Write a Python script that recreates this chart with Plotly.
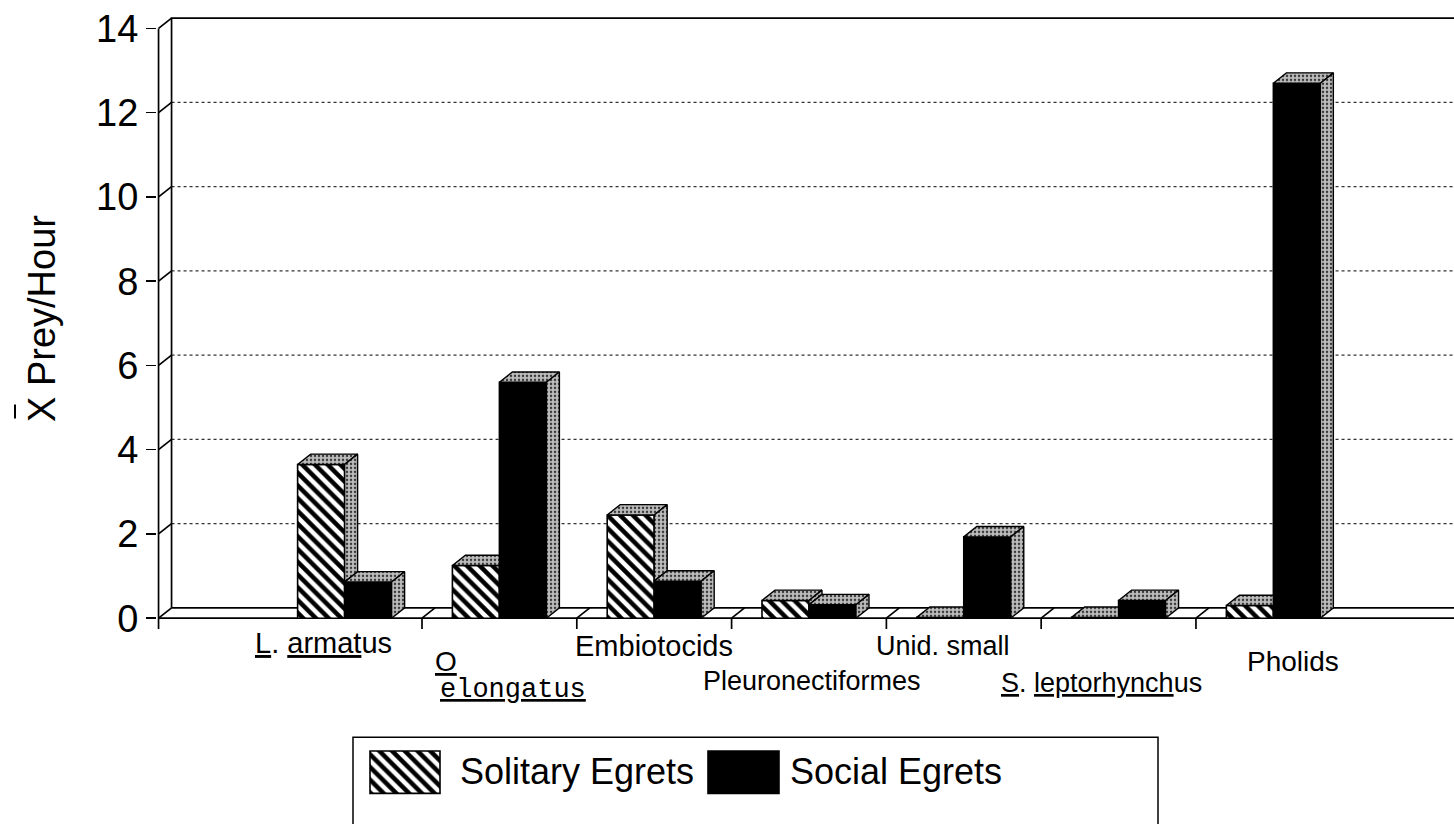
import plotly.graph_objects as go

# ---------------- data ----------------
categories = ["L. armatus", "O. elongatus", "Embiotocids", "Pleuronectiformes",
              "Unid. small", "S. leptorhynchus", "Pholids"]
solitary = [3.65, 1.25, 2.45, 0.42, 0.02, 0.02, 0.30]
social = [0.86, 5.60, 0.88, 0.32, 1.93, 0.42, 12.70]
series_names = ["Solitary Egrets", "Social Egrets"]
y_ticks = [0, 2, 4, 6, 8, 10, 12, 14]
y_title = "X Prey/Hour"

# label markup (underlines as in the original)
label_html = ["<u>L</u>. <u>armat</u>us", "<u>O</u>", "Embiotocids", "Pleuronectiformes",
              "Unid. small", "<u>S</u>. <u>leptorhynch</u>us", "Pholids"]
label_line2 = {1: "<u>elongatus</u>"}

# ---------------- geometry / style ----------------
W, H = 1454, 824
PXX, PXY = 154.8, 42.8          # px per data unit
X_RANGE = [-1.212, 7.167]
Y_RANGE = [-0.327, 14.346]
XL = -1.202                      # front left axis position
DX, DY = 13 / PXX, 10.5 / PXY    # 3-D depth offset
BAR_W = 47 / PXX
TICK = 11 / PXY
FONT = "Liberation Sans, Arial, Helvetica, sans-serif"
MONO = "Liberation Mono, Courier New, monospace"
HATCH = dict(shape="\\", fgcolor="black", bgcolor="white", fgopacity=1, fillmode="replace",
             size=9, solidity=0.5)
STIPPLE = dict(shape=".", fgcolor="#3a3a3a", bgcolor="#bdbdbd", fgopacity=1, size=4, solidity=0.3)

fig = go.Figure()

# ---------- background (walls, floor, grid) on main axes ----------
gx, gy = [], []
for v in y_ticks[1:-1]:
    gx += [XL + DX, X_RANGE[1], None]
    gy += [v + DY, v + DY, None]
fig.add_trace(go.Scatter(x=gx, y=gy, mode="lines", hoverinfo="skip",
                         line=dict(color="#333333", width=1.2, dash="dot"), showlegend=False))

lx, ly = [], []
top = y_ticks[-1]
lx += [XL, XL, None]; ly += [-TICK, top, None]
lx += [XL + DX, XL + DX, X_RANGE[1], None]; ly += [DY, top + DY, top + DY, None]
for v in y_ticks:
    lx += [XL, XL + DX, None]; ly += [v, v + DY, None]
lx += [XL, X_RANGE[1], None]; ly += [0, 0, None]
lx += [XL + DX, X_RANGE[1], None]; ly += [DY, DY, None]
for k in range(len(categories) - 1):
    b = k + 0.5
    lx += [b, b + DX, None]; ly += [0, DY, None]
    lx += [b, b, None]; ly += [0, -TICK, None]
fig.add_trace(go.Scatter(x=lx, y=ly, mode="lines", hoverinfo="skip",
                         line=dict(color="black", width=1.7), showlegend=False))

# ---------- bars (front faces) on overlay axes ----------
idx = list(range(len(categories)))
fig.add_trace(go.Bar(x=idx, y=solitary, width=[BAR_W] * len(idx), offset=-BAR_W,
                     name=series_names[0], xaxis="x2", yaxis="y2",
                     marker=dict(color="white", pattern=HATCH, line=dict(color="black", width=1.6)),
                     showlegend=False))
fig.add_trace(go.Bar(x=idx, y=social, width=[BAR_W] * len(idx), offset=0,
                     name=series_names[1], xaxis="x2", yaxis="y2",
                     marker=dict(color="black", line=dict(color="black", width=1.6)),
                     showlegend=False))


def face(pts):
    xs = [p[0] for p in pts] + [pts[0][0]]
    ys = [p[1] for p in pts] + [pts[0][1]]
    fig.add_trace(go.Scatter(x=xs, y=ys, mode="lines", fill="toself", xaxis="x2", yaxis="y2",
                             fillcolor="#bdbdbd", fillpattern=STIPPLE, hoverinfo="skip",
                             line=dict(color="black", width=1.4), showlegend=False))


for i, (a, b) in enumerate(zip(solitary, social)):
    x0, x1, x2 = i - BAR_W, i, i + BAR_W
    if a >= b:
        face([(x0, a), (x1, a), (x1 + DX, a + DY), (x0 + DX, a + DY)])
        face([(x1, b), (x1, a), (x1 + DX, a + DY), (x1 + DX, b + DY)])
    else:
        face([(x0, a), (x1, a), (x1, a + DY), (x0 + DX, a + DY)])
    face([(x1, b), (x2, b), (x2 + DX, b + DY), (x1 + DX, b + DY)])
    face([(x2, 0), (x2, b), (x2 + DX, b + DY), (x2 + DX, DY)])

# ---------- legend swatches (own small axes) ----------
fig.add_trace(go.Bar(x=[52], y=[43], base=[24], width=[70], xaxis="x3", yaxis="y3",
                     marker=dict(color="white", pattern=HATCH, line=dict(color="black", width=1.6)),
                     showlegend=False, hoverinfo="skip"))
fig.add_trace(go.Bar(x=[390.5], y=[43], base=[24], width=[71], xaxis="x3", yaxis="y3",
                     marker=dict(color="black", line=dict(color="black", width=1.6)),
                     showlegend=False, hoverinfo="skip"))

# ---------- annotations ----------
ann = []
label_pos = [(-21, 647), (-53, 666), (0, 650), (3, 686), (-21, 650), (-17, 688), (20, 666)]
label_size = [29, 28, 29, 27, 27, 27, 28]
for i, txt in enumerate(label_html):
    xs, ypx = label_pos[i]
    ann.append(dict(x=i, xref="x", y=(H - ypx) / H, yref="paper", text=txt, showarrow=False,
                    xshift=xs, xanchor="center", yanchor="middle",
                    font=dict(family=FONT, size=label_size[i], color="black")))
for i, txt in label_line2.items():
    ann.append(dict(x=i, xref="x", y=(H - 695) / H, yref="paper", text=txt, showarrow=False,
                    xshift=14, xanchor="center", yanchor="middle",
                    font=dict(family=MONO, size=27, color="black")))
ann.append(dict(x=42 / W, xref="paper", y=(H - 318) / H, yref="paper", text=y_title,
                textangle=-90, showarrow=False, xanchor="center", yanchor="middle",
                font=dict(family=FONT, size=38, color="black")))
ann.append(dict(x=458 / W, xref="paper", y=(H - 778) / H, yref="paper", text=series_names[0],
                showarrow=False, xanchor="left", yanchor="middle",
                font=dict(family=FONT, size=36, color="black")))
ann.append(dict(x=788 / W, xref="paper", y=(H - 778) / H, yref="paper", text=series_names[1],
                showarrow=False, xanchor="left", yanchor="middle",
                font=dict(family=FONT, size=36, color="black")))

shapes = [
    dict(type="rect", xref="paper", yref="paper", x0=353 / W, x1=1158 / W, y0=-0.02, y1=81 / H,
         line=dict(color="black", width=1.5), fillcolor="rgba(0,0,0,0)"),
    dict(type="line", xref="paper", yref="paper", x0=15 / W, x1=15 / W,
         y0=(H - 405) / H, y1=(H - 419) / H, line=dict(color="black", width=2)),
]

XDOM = [157 / W, 1.0]
YDOM = [188 / H, 816 / H]
fig.update_layout(
    width=W, height=H, margin=dict(l=0, r=0, t=0, b=0),
    paper_bgcolor="white", plot_bgcolor="white",
    barmode="overlay", showlegend=False,
    xaxis=dict(domain=XDOM, range=X_RANGE, visible=False, fixedrange=True),
    yaxis=dict(domain=YDOM, range=Y_RANGE, showgrid=False, zeroline=False, showline=False,
               tickmode="array", tickvals=y_ticks, ticktext=[str(t) for t in y_ticks],
               ticks="outside", ticklen=10, tickwidth=1.6, tickcolor="black",
               tickfont=dict(family=FONT, size=38, color="black"), fixedrange=True),
    xaxis2=dict(domain=XDOM, range=X_RANGE, overlaying="x", anchor="y2", visible=False),
    yaxis2=dict(domain=YDOM, range=Y_RANGE, overlaying="y", anchor="x2", visible=False),
    xaxis3=dict(domain=[353 / W, 1158 / W], range=[0, 805], anchor="y3", visible=False),
    yaxis3=dict(domain=[0, 81 / H], range=[0, 81], anchor="x3", visible=False),
    annotations=ann, shapes=shapes,
)

fig.write_html("out.html", config={"displayModeBar": False, "staticPlot": True},
               post_script="document.body.style.margin='0';")
